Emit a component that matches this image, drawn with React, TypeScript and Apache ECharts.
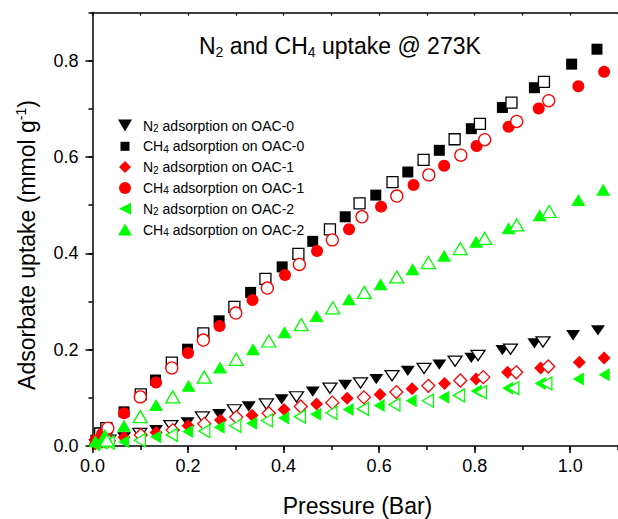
import React, { useEffect, useRef } from "react";
import * as echarts from "echarts";

// ---------------- data (x = pressure / bar, y = uptake / mmol g-1) ----------------
const N2_OAC0_ADS: number[][] = [
  [0.006, 0.004], [0.02, 0.009], [0.066, 0.018], [0.133, 0.033], [0.199, 0.049], [0.265, 0.066],
  [0.327, 0.082], [0.396, 0.097], [0.461, 0.113], [0.529, 0.127], [0.594, 0.139], [0.66, 0.156],
  [0.726, 0.169], [0.793, 0.183], [0.858, 0.199], [0.925, 0.213], [1.006, 0.23], [1.058, 0.24],
];
const N2_OAC0_DES: number[][] = [
  [0.034, 0.012], [0.099, 0.026], [0.164, 0.042], [0.23, 0.06], [0.297, 0.075], [0.364, 0.087],
  [0.427, 0.102], [0.497, 0.12], [0.561, 0.131], [0.627, 0.146], [0.694, 0.161], [0.759, 0.176],
  [0.807, 0.188], [0.875, 0.201], [0.943, 0.216],
];
const CH4_OAC0_ADS: number[][] = [
  [0.007, 0.012], [0.022, 0.027], [0.066, 0.071], [0.132, 0.137], [0.199, 0.201], [0.265, 0.26],
  [0.331, 0.319], [0.397, 0.372], [0.461, 0.425], [0.529, 0.476], [0.593, 0.521], [0.66, 0.569],
  [0.726, 0.614], [0.793, 0.659], [0.858, 0.703], [0.925, 0.744], [1.003, 0.793], [1.056, 0.824],
];
const CH4_OAC0_DES: number[][] = [
  [0.016, 0.026], [0.029, 0.037], [0.101, 0.107], [0.166, 0.173], [0.232, 0.234], [0.297, 0.289],
  [0.362, 0.347], [0.431, 0.399], [0.497, 0.45], [0.559, 0.504], [0.628, 0.548], [0.693, 0.594],
  [0.758, 0.637], [0.811, 0.669], [0.877, 0.713], [0.945, 0.756],
];
const N2_OAC1_ADS: number[][] = [
  [0.006, 0.004], [0.02, 0.008], [0.066, 0.018], [0.133, 0.028], [0.2, 0.042], [0.268, 0.054],
  [0.334, 0.064], [0.401, 0.076], [0.469, 0.087], [0.533, 0.099], [0.602, 0.107], [0.669, 0.119],
  [0.737, 0.13], [0.803, 0.139], [0.869, 0.153], [0.938, 0.162], [1.019, 0.174], [1.071, 0.183],
];
const N2_OAC1_DES: number[][] = [
  [0.034, 0.011], [0.101, 0.023], [0.168, 0.033], [0.234, 0.046], [0.301, 0.06], [0.369, 0.068],
  [0.436, 0.082], [0.502, 0.09], [0.568, 0.101], [0.636, 0.112], [0.703, 0.125], [0.77, 0.136],
  [0.818, 0.143], [0.887, 0.153], [0.954, 0.165],
];
const CH4_OAC1_ADS: number[][] = [
  [0.006, 0.012], [0.02, 0.025], [0.066, 0.068], [0.133, 0.132], [0.2, 0.193], [0.266, 0.249],
  [0.335, 0.303], [0.403, 0.355], [0.47, 0.405], [0.537, 0.45], [0.604, 0.497], [0.672, 0.542],
  [0.736, 0.582], [0.804, 0.623], [0.871, 0.663], [0.934, 0.701], [1.017, 0.747], [1.071, 0.777],
];
const CH4_OAC1_DES: number[][] = [
  [0.032, 0.037], [0.1, 0.102], [0.166, 0.162], [0.232, 0.22], [0.3, 0.276], [0.366, 0.328],
  [0.433, 0.377], [0.502, 0.428], [0.564, 0.476], [0.637, 0.519], [0.704, 0.563], [0.771, 0.604],
  [0.821, 0.636], [0.888, 0.674], [0.955, 0.717],
];
const N2_OAC2_ADS: number[][] = [
  [0.005, 0.002], [0.02, 0.005], [0.065, 0.009], [0.132, 0.019], [0.199, 0.03], [0.265, 0.039],
  [0.333, 0.047], [0.4, 0.058], [0.467, 0.066], [0.535, 0.076], [0.6, 0.084], [0.667, 0.094],
  [0.735, 0.101], [0.803, 0.114], [0.869, 0.12], [0.937, 0.13], [1.017, 0.139], [1.071, 0.148],
];
const N2_OAC2_DES: number[][] = [
  [0.034, 0.007], [0.099, 0.012], [0.166, 0.023], [0.234, 0.031], [0.299, 0.042], [0.365, 0.053],
  [0.434, 0.061], [0.5, 0.069], [0.566, 0.077], [0.632, 0.086], [0.702, 0.094], [0.767, 0.105],
  [0.813, 0.112], [0.881, 0.12], [0.95, 0.13],
];
const CH4_OAC2_ADS: number[][] = [
  [0.006, 0.01], [0.026, 0.023], [0.066, 0.042], [0.133, 0.085], [0.201, 0.125], [0.267, 0.163],
  [0.336, 0.201], [0.402, 0.236], [0.469, 0.27], [0.537, 0.305], [0.603, 0.336], [0.67, 0.367],
  [0.736, 0.395], [0.803, 0.424], [0.871, 0.452], [0.936, 0.479], [1.017, 0.511], [1.069, 0.532],
];
const CH4_OAC2_DES: number[][] = [
  [0.03, 0.012], [0.1, 0.061], [0.168, 0.102], [0.234, 0.143], [0.301, 0.18], [0.369, 0.218],
  [0.437, 0.252], [0.503, 0.287], [0.569, 0.319], [0.637, 0.351], [0.703, 0.381], [0.77, 0.41],
  [0.821, 0.431], [0.888, 0.459], [0.956, 0.487],
];

const X_MAJOR_TICKS = [0, 0.2, 0.4, 0.6, 0.8, 1.0];
const X_MINOR_TICKS = [0, 0.1, 0.2, 0.3, 0.4, 0.5, 0.6, 0.7, 0.8, 0.9, 1.0, 1.1];
const Y_MAJOR_TICKS = [0, 0.2, 0.4, 0.6, 0.8];
const Y_MINOR_TICKS = [0, 0.1, 0.2, 0.3, 0.4, 0.5, 0.6, 0.7, 0.8, 0.9];

const TITLE_TEXT = "{a|N}{s|2}{a| and CH}{s|4}{a| uptake @ 273K}";
const X_NAME = "Pressure (Bar)";
const Y_NAME = "{a|Adsorbate uptake (mmol g}{p|-1}{a|)}";

// ---------------- styling ----------------
const FONT = '"Liberation Sans", Arial, sans-serif';
const BLACK = "#000000";
const RED = "#ff0000";
const GREEN = "#00ff00";
const DOWN_TRI = "path://M0,0L14,0L7,12Z";
const LEFT_TRI = "path://M0,6.5L12,0L12,13Z";
// legend icons drawn in a 14x12 box
const LEG_SQUARE = "path://M0,0M14,12M2.5,1.5L11.5,1.5L11.5,10.5L2.5,10.5Z";
const LEG_CIRCLE = "path://M0,0M14,12M13,6A6,6,0,1,1,1,6A6,6,0,1,1,13,6Z";
const LEG_DIAMOND = "path://M0,0M14,12M7,0L13,6L7,12L1,6Z";
const LEG_DOWN = "path://M0,0L14,0L7,12Z";
const LEG_LEFT = "path://M0,0M14,12M1,6L13,0L13,12Z";
const LEG_UP = "path://M7,0L14,12L0,12Z";

type Spec = { name: string; data: number[][]; symbol: string; size: number | number[]; color: string; open: boolean; icon?: string };

const SPECS: Spec[] = [
  { name: "N2 adsorption on OAC-0", data: N2_OAC0_ADS, symbol: DOWN_TRI, size: [14, 12], color: BLACK, open: false, icon: LEG_DOWN },
  { name: "N2 desorption on OAC-0", data: N2_OAC0_DES, symbol: DOWN_TRI, size: [14, 12], color: BLACK, open: true },
  { name: "CH4 adsorption on OAC-0", data: CH4_OAC0_ADS, symbol: "rect", size: 11, color: BLACK, open: false, icon: LEG_SQUARE },
  { name: "CH4 desorption on OAC-0", data: CH4_OAC0_DES, symbol: "rect", size: 11, color: BLACK, open: true },
  { name: "N2 adsorption on OAC-1", data: N2_OAC1_ADS, symbol: "diamond", size: 13, color: RED, open: false, icon: LEG_DIAMOND },
  { name: "N2 desorption on OAC-1", data: N2_OAC1_DES, symbol: "diamond", size: 13, color: RED, open: true },
  { name: "CH4 adsorption on OAC-1", data: CH4_OAC1_ADS, symbol: "circle", size: 12, color: RED, open: false, icon: LEG_CIRCLE },
  { name: "CH4 desorption on OAC-1", data: CH4_OAC1_DES, symbol: "circle", size: 12, color: RED, open: true },
  { name: "N2 adsorption on OAC-2", data: N2_OAC2_ADS, symbol: LEFT_TRI, size: [12, 13], color: GREEN, open: false, icon: LEG_LEFT },
  { name: "N2 desorption on OAC-2", data: N2_OAC2_DES, symbol: LEFT_TRI, size: [12, 13], color: GREEN, open: true },
  { name: "CH4 adsorption on OAC-2", data: CH4_OAC2_ADS, symbol: "triangle", size: [14, 12], color: GREEN, open: false, icon: LEG_UP },
  { name: "CH4 desorption on OAC-2", data: CH4_OAC2_DES, symbol: "triangle", size: [14, 12], color: GREEN, open: true },
];

const fmt = (v: number) => v.toFixed(1);

export default function App() {
  const ref = useRef<HTMLDivElement>(null);
  useEffect(() => {
    if (!ref.current) return;
    const chart = echarts.init(ref.current, null, { renderer: "svg" });
    const axisLine = { show: true, onZero: false, lineStyle: { color: BLACK, width: 1.5 } };
    const labelStyle = { color: BLACK, fontSize: 18, fontFamily: FONT };
    const common = { type: "value" as const, min: 0, splitLine: { show: false } };

    const option: any = {
      animation: false,
      grid: { left: 92.5, top: 12.6, width: 529.6, height: 433.4, containLabel: false },
      xAxis: [
        {
          ...common, max: 1.1, interval: 0.2, position: "bottom", axisLine,
          axisTick: { show: true, inside: false, length: 7, customValues: X_MAJOR_TICKS, lineStyle: { color: BLACK, width: 1.5 } },
          axisLabel: { ...labelStyle, margin: 11, customValues: X_MAJOR_TICKS, formatter: fmt },
        },
        {
          ...common, max: 1.1, interval: 0.1, position: "bottom", axisLine: { show: false, onZero: false },
          axisTick: { show: true, inside: false, length: 4, customValues: X_MINOR_TICKS, lineStyle: { color: BLACK, width: 1.5 } },
          axisLabel: { show: false },
        },
        {
          ...common, max: 1.1, interval: 0.1, position: "top", axisLine,
          axisTick: { show: true, inside: true, length: 3, customValues: X_MINOR_TICKS, lineStyle: { color: BLACK, width: 1.2 } },
          axisLabel: { show: false },
        },
      ],
      yAxis: [
        {
          ...common, max: 0.9, interval: 0.2, position: "left", axisLine,
          axisTick: { show: true, inside: false, length: 7, customValues: Y_MAJOR_TICKS, lineStyle: { color: BLACK, width: 1.5 } },
          axisLabel: { ...labelStyle, margin: 14, customValues: Y_MAJOR_TICKS, formatter: fmt },
        },
        {
          ...common, max: 0.9, interval: 0.1, position: "left", axisLine: { show: false, onZero: false },
          axisTick: { show: true, inside: false, length: 4, customValues: Y_MINOR_TICKS, lineStyle: { color: BLACK, width: 1.5 } },
          axisLabel: { show: false },
        },
      ],
      legend: {
        orient: "vertical",
        left: 118,
        top: 118.5,
        padding: 0,
        itemWidth: 14,
        itemHeight: 12,
        itemGap: 5.8,
        selectedMode: false,
        data: SPECS.filter((s) => s.icon).map((s) => ({ name: s.name, icon: s.icon })),
        formatter: (name: string) => name.replace(/^(N|CH)(\d)(.*)$/, "{g| }{a|$1}{s|$2}{a|$3}"),
        textStyle: {
          color: BLACK,
          fontFamily: FONT,
          fontSize: 14,
          rich: {
            g: { fontSize: 14, width: 6, lineHeight: 16 },
            a: { fontSize: 14, fontFamily: FONT, color: BLACK, lineHeight: 16 },
            s: { fontSize: 10, fontFamily: FONT, color: BLACK, lineHeight: 5, verticalAlign: "bottom" },
          },
        },
      },
      graphic: [
        {
          type: "text", x: 199, y: 46, silent: true,
          style: {
            text: TITLE_TEXT, align: "left", verticalAlign: "middle", fill: BLACK,
            fontFamily: FONT, fontSize: 23,
            rich: {
              a: { fontSize: 23, fontFamily: FONT, fill: BLACK, lineHeight: 26 },
              s: { fontSize: 14, fontFamily: FONT, fill: BLACK, lineHeight: 7, verticalAlign: "bottom" },
            },
          },
        },
        {
          type: "text", x: 357.5, y: 506, silent: true,
          style: { text: X_NAME, align: "center", verticalAlign: "middle", fill: BLACK, fontFamily: FONT, fontSize: 23 },
        },
        {
          type: "text", x: 27, y: 245, rotation: Math.PI / 2, silent: true,
          style: {
            text: Y_NAME, align: "center", verticalAlign: "middle", fill: BLACK,
            fontFamily: FONT, fontSize: 23,
            rich: {
              a: { fontSize: 23, fontFamily: FONT, fill: BLACK, lineHeight: 26 },
              p: { fontSize: 14, fontFamily: FONT, fill: BLACK, lineHeight: 18, verticalAlign: "top" },
            },
          },
        },
      ],
      series: SPECS.map((s) => ({
        type: "scatter",
        name: s.name,
        data: s.data,
        xAxisIndex: 0,
        yAxisIndex: 0,
        symbol: s.symbol,
        symbolSize: s.size,
        symbolKeepAspect: true,
        silent: true,
        emphasis: { disabled: true },
        itemStyle: s.open
          ? { color: "#ffffff", borderColor: s.color, borderWidth: 1.3, opacity: 1 }
          : { color: s.color, borderWidth: 0, opacity: 1 },
      })),
    };
    chart.setOption(option);
    return () => chart.dispose();
  }, []);

  return <div ref={ref} style={{ position: "absolute", left: 0, top: 0, width: 618, height: 519 }} />;
}
